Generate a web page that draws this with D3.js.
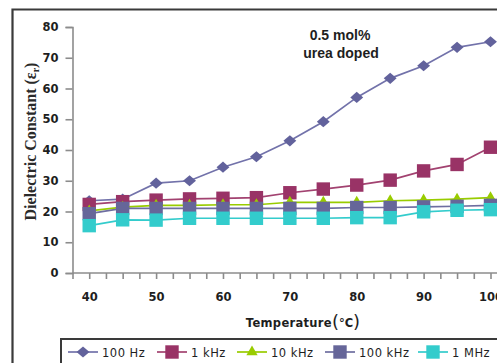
<!DOCTYPE html>
<html>
<head>
<meta charset="utf-8">
<script src="https://cdn.jsdelivr.net/npm/d3@7/dist/d3.min.js"></script>
<style>
  html, body { margin: 0; padding: 0; background: #fff; }
  svg { display: block; }
</style>
</head>
<body>
<svg id="chart" width="497" height="363"></svg>
<script>
// Temperature categories (°C)
const temperatures = [40, 45, 50, 55, 60, 65, 70, 75, 80, 85, 90, 95, 100];

// Dielectric constant at each frequency
const hz100  = [23.5, 24, 29.2, 30, 34.4, 37.8, 43, 49.2, 57.1, 63.3, 67.4, 73.4, 75.2];
const khz1   = [22.3, 23.2, 23.7, 24.1, 24.3, 24.5, 26.1, 27.3, 28.6, 30.2, 33.2, 35.3, 40.9];
const khz10  = [20.2, 21.4, 22, 22, 22.2, 22.2, 23, 23, 23, 23.5, 23.7, 24, 24.5];
const khz100 = [19.3, 21, 21, 21, 21, 21, 21, 21, 21.3, 21.3, 21.5, 21.7, 22];
const mhz1   = [15.4, 17.3, 17.2, 17.8, 17.8, 17.8, 17.8, 17.8, 18, 18, 19.9, 20.4, 20.6];

const yTicks = [0, 10, 20, 30, 40, 50, 60, 70, 80];
const xLabels = [40, 50, 60, 70, 80, 90, 100];

const series = [
  { name: "100 Hz",  values: hz100,  color: "#62629c", line: "#7272aa", marker: "diamond" },
  { name: "1 kHz",   values: khz1,   color: "#993366", line: "#a24270", marker: "square" },
  { name: "10 kHz",  values: khz10,  color: "#99cc00", line: "#99cc00", marker: "triangle" },
  { name: "100 kHz", values: khz100, color: "#666699", line: "#6e6ea0", marker: "square" },
  { name: "1 MHz",   values: mhz1,   color: "#33cccc", line: "#33cccc", marker: "square" }
];

const svg = d3.select("#chart");
const W = 497, H = 363;

const x = d3.scaleLinear().domain([37.5, 100]).range([72.5, 490.5]);
const y = d3.scaleLinear().domain([0, 80]).range([273, 27]);

// Outer chart frame
svg.append("path")
  .attr("d", `M12.5,${H} L12.5,9.5 L${W},9.5`)
  .attr("fill", "none").attr("stroke", "#3a3a3a").attr("stroke-width", 2.2);

const axisColor = "#8c8c8c";
const tickFont = "'DejaVu Sans', sans-serif";

// Y axis
const yAxis = svg.append("g").attr("transform", "translate(72.5,0)")
  .call(d3.axisLeft(y).tickValues(yTicks).tickSize(7).tickPadding(7).tickFormat(d3.format("d")));
yAxis.select(".domain").attr("stroke", axisColor).attr("stroke-width", 1.6);
yAxis.selectAll(".tick line").attr("stroke", axisColor).attr("stroke-width", 1.6);
yAxis.selectAll(".tick text")
  .attr("font-family", tickFont).attr("font-weight", "bold").attr("font-size", 11.5)
  .attr("fill", "#1e1e1e");

// X axis: minor ticks every 2.5 °C, labels every 10 °C
const xTickVals = d3.range(37.5, 101, 2.5);
const xAxis = svg.append("g").attr("transform", `translate(0,${y(0)})`)
  .call(d3.axisBottom(x).tickValues(xTickVals).tickSize(6).tickPadding(14)
    .tickFormat(d => xLabels.includes(d) ? d : ""));
xAxis.select(".domain").remove();
xAxis.append("line")
  .attr("x1", x(37.5)).attr("x2", W).attr("y1", 0).attr("y2", 0)
  .attr("stroke", axisColor).attr("stroke-width", 1.6);
xAxis.append("line")
  .attr("x1", x(102.5)).attr("x2", x(102.5)).attr("y1", 0).attr("y2", 6)
  .attr("stroke", axisColor).attr("stroke-width", 1.6);
xAxis.selectAll(".tick line").attr("stroke", axisColor).attr("stroke-width", 1.6);
xAxis.selectAll(".tick text")
  .attr("font-family", tickFont).attr("font-weight", "bold").attr("font-size", 11.5)
  .attr("fill", "#1e1e1e");

// Y axis title
const yTitle = svg.append("text")
  .attr("transform", "translate(36,141.5) rotate(-90)")
  .attr("text-anchor", "middle")
  .attr("font-family", "'Liberation Serif', serif").attr("font-weight", "bold")
  .attr("font-size", 16).attr("fill", "#2a2a2a");
yTitle.append("tspan").text("Dielectric Constant (ε");
yTitle.append("tspan").attr("font-size", 10).attr("dy", 3).text("r");
yTitle.append("tspan").attr("dy", -3).text(")");

// X axis title
const xTitle = svg.append("text")
  .attr("x", 303).attr("y", 327).attr("text-anchor", "middle")
  .attr("font-family", tickFont).attr("font-weight", "bold")
  .attr("font-size", 11.5).attr("fill", "#1e1e1e");
xTitle.append("tspan").attr("letter-spacing", 0.3).text("Temperature");
xTitle.append("tspan").attr("font-size", 18).attr("font-weight", "normal").attr("dy", 1).text("(");
xTitle.append("tspan").attr("font-size", 11.5).attr("dy", -1).text("°C");
xTitle.append("tspan").attr("font-size", 18).attr("font-weight", "normal").attr("dy", 1).text(")");

// Annotation
const note = svg.append("g")
  .attr("font-family", "'Liberation Sans', Arial, sans-serif").attr("font-weight", "bold")
  .attr("font-size", 14).attr("fill", "#1e1e1e").attr("text-anchor", "middle");
note.append("text").attr("x", 340).attr("y", 40).text("0.5 mol%");
note.append("text").attr("x", 341).attr("y", 58).text("urea doped");

// Marker shapes
function markerPath(type) {
  if (type === "diamond") return d3.symbol().type(d3.symbolDiamond2).size(80)();
  if (type === "triangle") return d3.symbol().type(d3.symbolTriangle).size(55)();
  return d3.symbol().type(d3.symbolSquare).size(180)();
}

const line = d3.line().x((d, i) => x(temperatures[i])).y(d => y(d));

// Series: line then markers, in series order
series.forEach(s => {
  const g = svg.append("g");
  g.append("path").datum(s.values)
    .attr("d", line).attr("fill", "none")
    .attr("stroke", s.line).attr("stroke-width", 1.7);
  g.selectAll("path.mk").data(s.values).join("path").attr("class", "mk")
    .attr("d", markerPath(s.marker))
    .attr("transform", (d, i) => `translate(${x(temperatures[i])},${y(d)})` + (s.marker === "diamond" ? " scale(1.15,1)" : ""))
    .attr("fill", s.color);
});

// Legend box (extends past the right and bottom edges)
svg.append("rect")
  .attr("x", 61).attr("y", 339).attr("width", 480).attr("height", 40)
  .attr("fill", "#fff").attr("stroke", "#3a3a3a").attr("stroke-width", 2);

const legendX = [68, 157, 237, 325, 418];
const leg = svg.append("g");
series.forEach((s, i) => {
  const g = leg.append("g").attr("transform", `translate(${legendX[i]},352)`);
  g.append("line").attr("x1", 0).attr("x2", 30).attr("y1", 0).attr("y2", 0)
    .attr("stroke", s.line).attr("stroke-width", 1.7);
  g.append("path").attr("d", markerPath(s.marker))
    .attr("transform", `translate(15,0)` + (s.marker === "diamond" ? " scale(1.15,1)" : ""))
    .attr("fill", s.color);
  g.append("text").attr("x", 34).attr("y", 4.5)
    .attr("font-family", tickFont).attr("font-size", 11.5)
    .attr("letter-spacing", 0.5).attr("fill", "#1e1e1e")
    .text(s.name);
});
</script>
</body>
</html>
